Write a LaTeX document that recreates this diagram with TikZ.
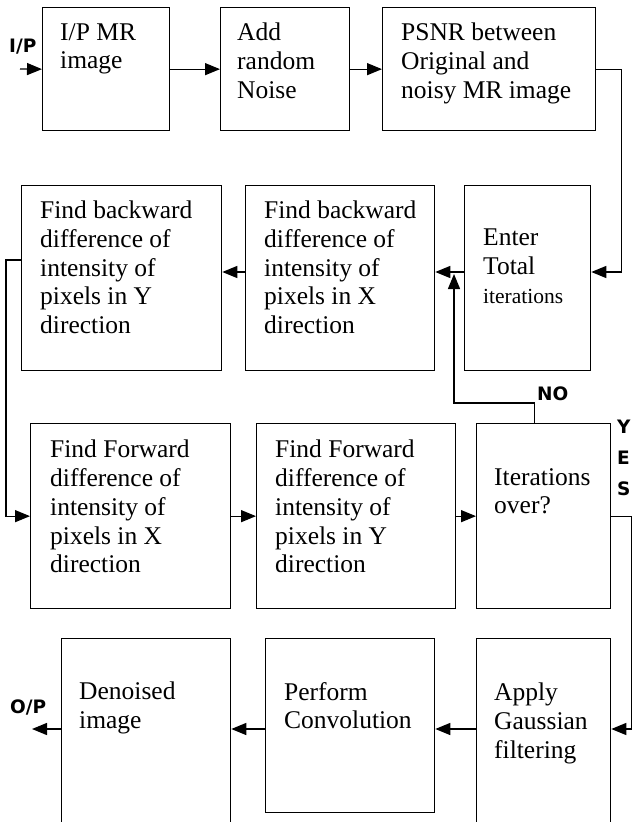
\documentclass[tikz,border=0pt]{standalone}
\usepackage{fontspec}
\setmainfont{Liberation Serif}
\newfontfamily\tagfont{DejaVu Sans}
\usetikzlibrary{arrows.meta}

\tikzset{
    blk/.style = {draw, line width=1.3pt, inner sep=0pt, anchor=north west},
    txt/.style = {inner sep=0pt, anchor=north west, align=left,
                  font=\fontsize{25.5}{28.7}\selectfont},
    tag/.style = {inner sep=0pt, anchor=base west,
                  font=\tagfont\bfseries\fontsize{18.5}{31}\selectfont},
    flow/.style = {line width=1.3pt, -{Triangle[length=15pt,width=12pt]}},
}

\begin{document}
\begin{tikzpicture}[x=1pt, y=-1pt]
    \useasboundingbox (0,0) rectangle (632,822);

    % boxes, row by row
    \node[blk, minimum width=127pt, minimum height=123pt] (inp) at (42,7) {};
    \node[blk, minimum width=129pt, minimum height=123pt] (noise) at (220,7) {};
    \node[blk, minimum width=213pt, minimum height=123pt] (psnr) at (382,7) {};

    \node[blk, minimum width=200pt, minimum height=185pt] (bwdy) at (21,185) {};
    \node[blk, minimum width=189pt, minimum height=185pt] (bwdx) at (245,185) {};
    \node[blk, minimum width=126pt, minimum height=185pt] (enter) at (464,185) {};

    \node[blk, minimum width=200pt, minimum height=185pt] (fwdx) at (30,423) {};
    \node[blk, minimum width=199pt, minimum height=185pt] (fwdy) at (256,423) {};
    \node[blk, minimum width=134pt, minimum height=185pt] (iter) at (476,423) {};

    \node[blk, minimum width=169pt, minimum height=200pt] (out) at (61,638) {};
    \node[blk, minimum width=169pt, minimum height=174pt] (conv) at (265,638) {};
    \node[blk, minimum width=134pt, minimum height=200pt] (gauss) at (476,638) {};

    % box texts
    \node[txt] (inp-t) at (60,23) {I/P MR\\image};
    \node[txt] (noise-t) at (237,23) {Add\\random\\Noise};
    \node[txt] (psnr-t) at (401,23) {PSNR between\\Original and\\noisy MR image};
    \node[txt] (bwdy-t) at (40,201) {Find backward\\difference of\\intensity of\\pixels in Y\\direction};
    \node[txt] (bwdx-t) at (264,201) {Find backward\\difference of\\intensity of\\pixels in X\\direction};
    \node[txt] (enter-t) at (483,229) {Enter\\Total\\{\fontsize{21.5}{28.7}\selectfont iterations}};
    \node[txt] (fwdx-t) at (50,440) {Find Forward\\difference of\\intensity of\\pixels in X\\direction};
    \node[txt] (fwdy-t) at (275,440) {Find Forward\\difference of\\intensity of\\pixels in Y\\direction};
    \node[txt] (iter-t) at (494,468) {Iterations\\over?};
    \node[txt] (out-t) at (79,682) {Denoised\\image};
    \node[txt] (conv-t) at (284,682) {Perform\\Convolution};
    \node[txt] (gauss-t) at (494,683) {Apply\\Gaussian\\filtering};

    % side tags
    \node[tag] (ip) at (9,52) {I/P};
    \node[tag] (no) at (537,400) {NO};
    \node[tag, anchor=north west, align=left] (yes) at (617,420) {Y\\E\\S};
    \node[tag] (op) at (10,713) {O/P};

    \coordinate (src) at (20,69);
    \coordinate (r2) at (0,272);
    \coordinate (r2b) at (0,260);
    \coordinate (r4) at (0,729);
    \coordinate (back) at (454,274);

    \draw[flow] (src) -- (inp.west);
    \draw[flow] (inp.east) -- (noise.west);
    \draw[flow] (noise.east) -- (psnr.west);
    \draw[flow] (psnr.east) -- ++(25,0) |- (enter.east |- r2);
    \draw[flow] (enter.west |- r2) -- (bwdx.east |- r2);
    \draw[flow] (bwdx.west |- r2) -- (bwdy.east |- r2);
    \draw[flow] (bwdy.west |- r2b) -- ++(-15,0) |- (fwdx.west);
    \draw[flow] (fwdx.east) -- (fwdy.west);
    \draw[flow] (fwdy.east) -- (iter.west);
    \draw[flow] ([xshift=-9pt]iter.north) -- ++(0,-20) -| (back); % loop back
    \draw[flow] (iter.east) -- ++(20,0) |- (gauss.east |- r4);
    \draw[flow] (gauss.west |- r4) -- (conv.east |- r4);
    \draw[flow] (conv.west |- r4) -- (out.east |- r4);
    \draw[flow] (out.west |- r4) -- ++(-29,0);
\end{tikzpicture}
\end{document}
